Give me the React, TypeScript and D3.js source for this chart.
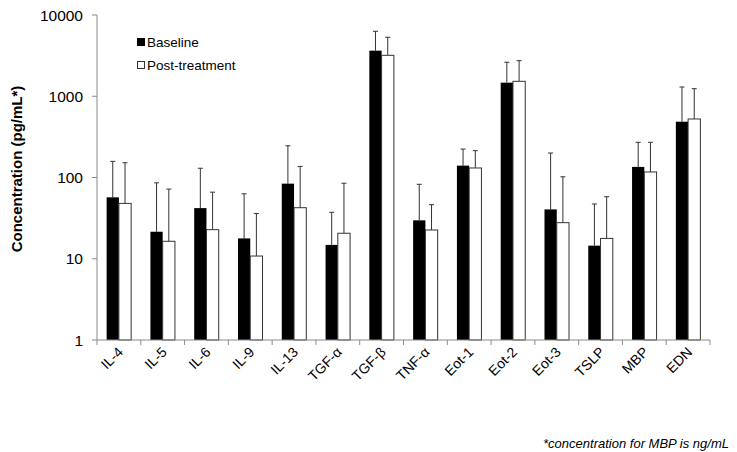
import React, { useEffect, useRef } from "react";
import * as d3 from "d3";

const categories = ["IL-4", "IL-5", "IL-6", "IL-9", "IL-13", "TGF-α", "TGF-β", "TNF-α", "Eot-1", "Eot-2", "Eot-3", "TSLP", "MBP", "EDN"];
const baseline = [57, 21.5, 42, 17.8, 84, 14.8, 3640, 29.7, 140, 1470, 40.5, 14.5, 135, 486];
const postTreatment = [48, 16.4, 22.8, 10.8, 42.5, 20.6, 3190, 22.6, 131, 1527, 27.8, 17.8, 117, 525];
const baselineErr = [158, 86, 130, 63, 246, 37.3, 6300, 82.5, 224, 2618, 200, 47.2, 271, 1300];
const postErr = [152, 72, 66, 36, 137, 85, 5320, 46.3, 214, 2743, 102, 58, 271, 1239];
const yTicks = [1, 10, 100, 1000, 10000];
const seriesNames = ["Baseline", "Post-treatment"];
const footnote = "*concentration for MBP is ng/mL";
const yTitle = "Concentration (pg/mL*)";

const W = 737, H = 452;
const left = 97, right = 710, top = 15, bottom = 340;
const font = "Liberation Sans, Arial, sans-serif";

export default function App() {
  const ref = useRef<SVGGElement | null>(null);
  const x = d3.scaleBand<string>().domain(categories).range([left, right]).paddingInner(0).paddingOuter(0);
  const y = d3.scaleLog().domain([1, 10000]).range([bottom, top]);
  const bw = x.bandwidth();
  const barW = bw * 0.28;
  const axisColor = "#8a8a8a";
  const errColor = "#333";

  useEffect(() => {
    if (!ref.current) return;
    const g = d3.select(ref.current);
    g.selectAll("*").remove();
    g.selectAll("text")
      .data(categories)
      .join("text")
      .attr("transform", (c) => `translate(${(x(c) as number) + bw / 2 + 5},353) rotate(-45)`)
      .attr("text-anchor", "end")
      .attr("font-size", 14)
      .attr("fill", "#000")
      .style("transform-box", "view-box")
      .text((c) => c);
  }, []);

  return (
    <svg width={W} height={H} style={{ position: "absolute", left: 0, top: 0, background: "#fff" }} fontFamily={font}>
      <rect x={0} y={0} width={W} height={H} fill="#fff" />
      {/* y axis */}
      <line x1={left} x2={left} y1={top} y2={bottom} stroke={axisColor} strokeWidth={1} />
      {yTicks.map((t) => (
        <g key={t}>
          <line x1={left - 5} x2={left} y1={y(t)} y2={y(t)} stroke={axisColor} />
          <text x={83} y={y(t)} dy="0.36em" textAnchor="end" fontSize={15.5} fill="#000">{t}</text>
        </g>
      ))}
      <text transform="translate(22,169) rotate(-90)" textAnchor="middle" fontSize={15} fontWeight="bold" fill="#000">{yTitle}</text>

      {/* bars */}
      {categories.map((c, i) => {
        const cx = (x(c) as number) + bw / 2;
        const bx = cx - barW;
        const px = cx;
        return (
          <g key={c}>
            <line x1={bx + barW / 2} x2={bx + barW / 2} y1={y(baseline[i])} y2={y(baselineErr[i])} stroke={errColor} strokeWidth={1} />
            <line x1={bx + barW / 2 - 2.5} x2={bx + barW / 2 + 2.5} y1={y(baselineErr[i])} y2={y(baselineErr[i])} stroke={errColor} strokeWidth={1} />
            <line x1={px + barW / 2} x2={px + barW / 2} y1={y(postTreatment[i])} y2={y(postErr[i])} stroke={errColor} strokeWidth={1} />
            <line x1={px + barW / 2 - 2.5} x2={px + barW / 2 + 2.5} y1={y(postErr[i])} y2={y(postErr[i])} stroke={errColor} strokeWidth={1} />
            <rect x={bx} y={y(baseline[i])} width={barW} height={bottom - y(baseline[i])} fill="#000" />
            <rect x={px} y={y(postTreatment[i])} width={barW} height={bottom - y(postTreatment[i])} fill="#fff" stroke="#333" strokeWidth={1} />
          </g>
        );
      })}

      {/* x axis */}
      <line x1={left} x2={right} y1={bottom} y2={bottom} stroke={axisColor} />
      {[...categories.map((c) => x(c) as number), right].map((t, i) => (
        <line key={i} x1={t} x2={t} y1={bottom} y2={bottom + 5} stroke={axisColor} />
      ))}
      <g ref={ref} />

      {/* legend */}
      <rect x={137} y={38} width={8} height={8} fill="#000" />
      <text x={147} y={42} dy="0.36em" fontSize={13.5} fill="#000">{seriesNames[0]}</text>
      <rect x={137.5} y={61.5} width={7} height={7} fill="#fff" stroke="#333" />
      <text x={147} y={65} dy="0.36em" fontSize={13.5} fill="#000">{seriesNames[1]}</text>

      <text x={729} y={443} dy="0.36em" textAnchor="end" fontSize={13} fontStyle="italic" fill="#000">{footnote}</text>
    </svg>
  );
}
